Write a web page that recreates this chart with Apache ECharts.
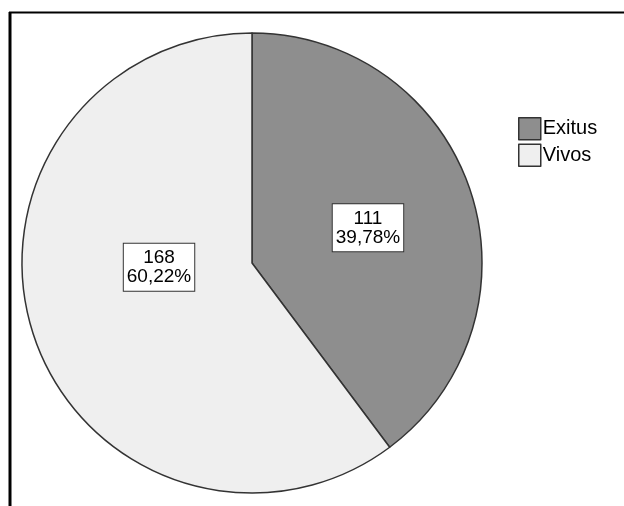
<!DOCTYPE html>
<html>
<head>
<meta charset="utf-8">
<script src="https://cdn.jsdelivr.net/npm/echarts@6/dist/echarts.min.js"></script>
<style>
  html, body { margin: 0; padding: 0; background: #ffffff; }
  #chart { width: 624px; height: 506px; }
</style>
</head>
<body>
<div id="chart"></div>
<script>
// Categories and counts
const categories = ['Exitus', 'Vivos'];
const counts = [111, 168];
const sliceColors = ['#8e8e8e', '#efefef'];

const chart = echarts.init(document.getElementById('chart'), null, { renderer: 'canvas' });

const labelOffsets = [[4, 2], [19, -33]];

const data = categories.map((name, i) => ({
  name: name,
  value: counts[i],
  itemStyle: { color: sliceColors[i] },
  label: { offset: labelOffsets[i] }
}));

chart.setOption({
  animation: false,
  backgroundColor: '#ffffff',
  legend: {
    orient: 'vertical',
    left: 513,
    top: 112,
    itemWidth: 22,
    itemHeight: 22,
    itemGap: 3,
    icon: 'rect',
    selectedMode: false,
    data: categories,
    textStyle: { fontFamily: 'Liberation Sans, Arial, sans-serif', fontSize: 20, color: '#000000', padding: [0, 0, 0, -3] },
    itemStyle: { borderColor: '#333333', borderWidth: 1.5 }
  },
  graphic: [
    { type: 'line', shape: { x1: 9, y1: 12.5, x2: 624, y2: 12.5 }, style: { stroke: '#000000', lineWidth: 2 } },
    { type: 'line', shape: { x1: 10, y1: 12, x2: 10, y2: 506 }, style: { stroke: '#000000', lineWidth: 3 } }
  ],
  series: [{
    type: 'pie',
    center: [252, 263],
    radius: 230,
    startAngle: 90,
    clockwise: true,
    emphasis: { disabled: true },
    itemStyle: { borderColor: '#333333', borderWidth: 1.5 },
    label: {
      show: true,
      position: 'inside',
      fontFamily: 'Liberation Sans, Arial, sans-serif',
      fontSize: 19,
      lineHeight: 19,
      color: '#000000',
      backgroundColor: '#ffffff',
      borderColor: '#333333',
      borderWidth: 1,
      padding: [5, 3, 4, 3],
      align: 'center',
      formatter: p => p.value + '\n' + p.percent.toFixed(2).replace('.', ',') + '%'
    },
    labelLine: { show: false },
    data: data
  }]
});
</script>
</body>
</html>
